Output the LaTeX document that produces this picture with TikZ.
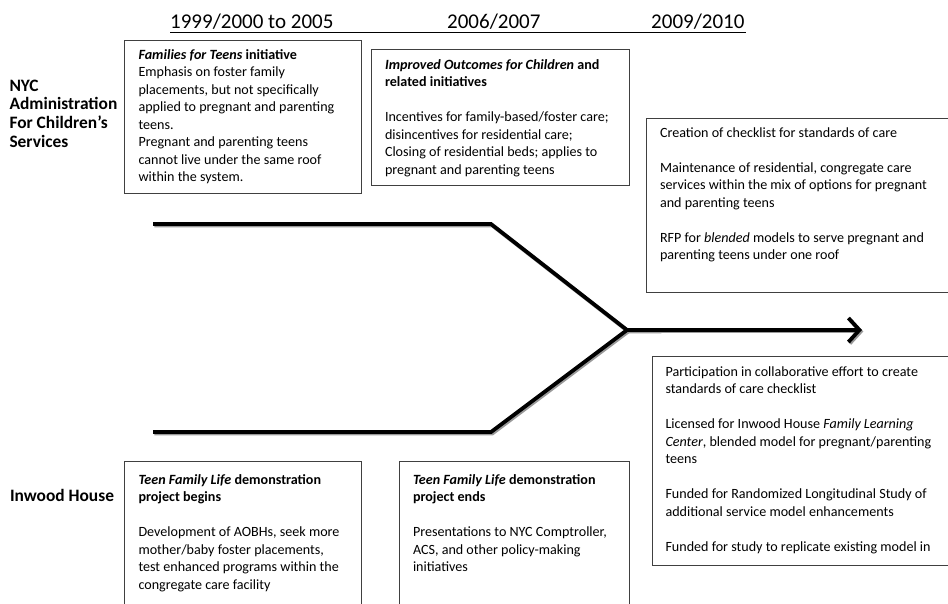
\documentclass[tikz,border=0pt]{standalone}
\usepackage{fontspec}
\setmainfont{Carlito}
\usetikzlibrary{arrows.meta}
\newcommand{\boxtext}[2]{\parbox[t]{#1}{\fontsize{14.1}{17.5}\selectfont\raggedright #2}}
\newcommand{\sidetext}[2]{\parbox[t]{#1}{\fontsize{17.4}{18.7}\selectfont\bfseries\raggedright #2}}
\newcommand{\blankline}{\\[17.5pt]}
\tikzset{
  box/.style={draw=black!75, line width=0.9pt, anchor=north west, inner sep=0pt, outer sep=0pt},
  txt/.style={anchor=base west, inner sep=0pt, outer sep=0pt},
  hdr/.style={anchor=base west, inner sep=0pt, font=\fontsize{21}{25}\selectfont},
  lane/.style={line width=3.8pt, black, line join=miter},
  laneshadow/.style={line width=3.8pt, black!40, line join=miter},
  tiparrow/.style={-{Straight Barb[length=11pt,width=24pt]}},
}
\begin{document}
\begin{tikzpicture}[x=1pt,y=-1pt]
\useasboundingbox (0,0) rectangle (948,603);
\clip (0,0) rectangle (948,603);
\fill[white] (0,0) rectangle (948,603);

% headers
\node[hdr] (h1) at (170,28) {1999/2000 to 2005};
\node[hdr] (h2) at (447,28) {2006/2007};
\node[hdr] (h3) at (651,28) {2009/2010};
\coordinate (hu0) at (170,32.5);
\coordinate (hu1) at (746,32.5);
\draw[line width=0.9pt] (hu0) -- (hu1);

% side labels
\node[txt] (s1) at (9.5,91) {\sidetext{125pt}{NYC\\Administration\\For Children’s\\Services}};
\node[txt] (s2) at (10,501) {\sidetext{125pt}{Inwood House}};

% boxes
\node[box, minimum width=237pt, minimum height=153pt] (b1) at (124,40) {};
\node[box, minimum width=258pt, minimum height=136pt] (b2) at (371,49) {};
\node[box, minimum width=320pt, minimum height=174pt] (b3) at (646,118) {};
\node[box, minimum width=320pt, minimum height=209pt] (b4) at (652,356) {};
\node[box, minimum width=237pt, minimum height=160pt] (b5) at (124,461) {};
\node[box, minimum width=230pt, minimum height=160pt] (b6) at (399,461) {};

% box texts
\node[txt] (t1) at (138.5,59) {\boxtext{222pt}{%
\textbf{\textit{Families for Teens} initiative}\\
Emphasis on foster family\\
placements, but not specifically\\
applied to pregnant and parenting\\
teens.\\
Pregnant and parenting teens\\
cannot live under the same roof\\
within the system.}};

\node[txt] (t2) at (385,69) {\boxtext{240pt}{%
\textbf{\textit{Improved Outcomes for Children} and}\\
\textbf{related initiatives}\blankline
Incentives for family-based/foster care;\\
disincentives for residential care;\\
Closing of residential beds; applies to\\
pregnant and parenting teens}};

\node[txt] (t3) at (660,137) {\boxtext{290pt}{%
Creation of checklist for standards of care\blankline
Maintenance of residential, congregate care\\
services within the mix of options for pregnant\\
and parenting teens\blankline
RFP for \textit{blended} models to serve pregnant and\\
parenting teens under one roof}};

\begin{scope}
\clip (b4.north west) rectangle (b4.south east);
\node[txt] (t4) at (665.5,376) {\boxtext{290pt}{%
Participation in collaborative effort to create\\
standards of care checklist\blankline
Licensed for Inwood House \textit{Family Learning}\\
\textit{Center}, blended model for pregnant/parenting\\
teens\blankline
Funded for Randomized Longitudinal Study of\\
additional service model enhancements\blankline
Funded for study to replicate existing model in}};
\end{scope}

\node[txt] (t5) at (138.5,484) {\boxtext{222pt}{%
\textbf{\textit{Teen Family Life} demonstration}\\
\textbf{project begins}\blankline
Development of AOBHs, seek more\\
mother/baby foster placements,\\
test enhanced programs within the\\
congregate care facility}};

\node[txt] (t6) at (413,484) {\boxtext{215pt}{%
\textbf{\textit{Teen Family Life} demonstration}\\
\textbf{project ends}\blankline
Presentations to NYC Comptroller,\\
ACS, and other policy-making\\
initiatives}};

% converging lines
\coordinate (u0) at (153,224);
\coordinate (u1) at (491,224);
\coordinate (j) at (627,330);
\coordinate (tip) at (862,330);
\coordinate (l0) at (153,432);
\coordinate (l1) at (491,432);
\coordinate (jr) at (660,330);

\draw[laneshadow] ([xshift=1.3pt,yshift=-1.5pt]u0) -- ([xshift=1.3pt,yshift=-1.5pt]u1) -- ([xshift=1.3pt,yshift=-1.5pt]j) -- ([xshift=1.3pt,yshift=-1.5pt]jr);
\draw[laneshadow] ([xshift=1.3pt,yshift=-1.5pt]l0) -- ([xshift=1.3pt,yshift=-1.5pt]l1) -- ([xshift=1.3pt,yshift=-1.5pt]j);
\draw[laneshadow, tiparrow] ([xshift=1.3pt,yshift=-1.5pt]j) -- ([xshift=1.3pt,yshift=-1.5pt]tip);
\draw[lane] (u0) -- (u1) -- (j) -- (jr);
\draw[lane] (l0) -- (l1) -- (j) -- (jr);
\draw[lane, tiparrow] (j) -- (tip);
\end{tikzpicture}
\end{document}
